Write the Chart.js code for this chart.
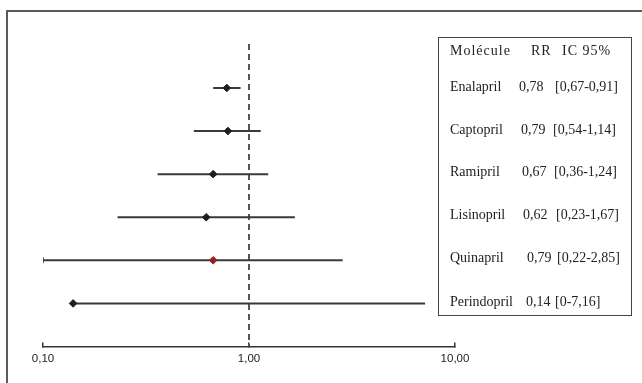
<!DOCTYPE html>
<html><head><meta charset="utf-8">
<script src="https://cdn.jsdelivr.net/npm/chart.js@4/dist/chart.umd.min.js"></script>
<style>
html,body{margin:0;padding:0;background:#fff;}
#wrap{position:relative;width:642px;height:383px;overflow:hidden;background:#fff;}
#frame{position:absolute;left:6px;top:10px;width:700px;height:420px;border-left:2px solid #5a5a5a;border-top:2px solid #5a5a5a;}
#c{position:absolute;left:0;top:0;}
#tbl{position:absolute;left:438px;top:37px;width:192px;height:277px;border:1.5px solid #444;}
.t{position:absolute;white-space:nowrap;line-height:16px;font-family:"Liberation Serif","Times New Roman",serif;font-size:14px;color:#222;}
.h{letter-spacing:1px;}
</style>
</head><body>
<div id="wrap">
<div id="frame"></div>
<canvas id="c" width="642" height="383"></canvas>
<div id="tbl"></div>
</div>
<script>
// ---- data ----
const molecules = ['Enalapril','Captopril','Ramipril','Lisinopril','Quinapril','Perindopril'];
const rrText = ['0,78','0,79','0,67','0,62','0,79','0,14'];
const icText = ['[0,67-0,91]','[0,54-1,14]','[0,36-1,24]','[0,23-1,67]','[0,22-2,85]','[0-7,16]'];
const rrPlotted = [0.78, 0.79, 0.67, 0.62, 0.67, 0.14];
const ciLow = [0.67, 0.54, 0.36, 0.23, 0.10, 0.14];
const ciHigh = [0.91, 1.14, 1.24, 1.67, 2.85, 7.16];
const xTicks = [0.1, 1, 10];
const xTickLabels = ['0,10', '1,00', '10,00'];
const refValue = 1;
const headers = ['Molécule', 'RR', 'IC 95%'];

// ---- table text (layout) ----
const wrap = document.getElementById('wrap');
const rowY = [87.5, 130, 172.7, 215.3, 258.3, 302];
const rrX = [519, 521, 522, 523, 527, 526];
const icX = [555, 553, 554, 556, 557, 555];
function addText(txt, x, y, cls) {
  const s = document.createElement('span');
  s.className = 't' + (cls ? ' ' + cls : '');
  s.textContent = txt;
  s.style.left = x + 'px';
  s.style.top = (y - 8.5) + 'px';
  wrap.appendChild(s);
}
addText(headers[0], 450, 51, 'h');
addText(headers[1], 531, 51, 'h');
addText(headers[2], 562, 51, 'h');
molecules.forEach((m, i) => {
  addText(m, 450, rowY[i]);
  addText(rrText[i], rrX[i], rowY[i]);
  addText(icText[i], icX[i], rowY[i]);
});

// ---- chart ----
const datasets = [];
molecules.forEach((m, i) => {
  datasets.push({
    label: m + ' IC',
    data: [{x: ciLow[i], y: i}, {x: ciHigh[i], y: i}],
    showLine: true,
    borderColor: '#3a3a3a',
    borderWidth: 2,
    pointRadius: (i === 4) ? [3, 0] : 0,
    pointStyle: 'line',
    rotation: 90,
    pointBorderColor: '#3a3a3a',
    pointBorderWidth: 1.5,
    order: 2
  });
});
datasets.push({
  label: 'ref',
  data: [{x: refValue, y: -1.02}, {x: refValue, y: 6.0}],
  showLine: true,
  borderColor: '#555',
  borderWidth: 2,
  borderDash: [6, 4],
  pointRadius: 0,
  order: 3
});
datasets.push({
  label: 'RR',
  data: rrPlotted.map((v, i) => ({x: v, y: i})),
  showLine: false,
  pointStyle: 'rectRot',
  pointRadius: 3.8,
  backgroundColor: rrPlotted.map((v, i) => i === 4 ? '#9c1d1d' : '#1e1e1e'),
  borderColor: rrPlotted.map((v, i) => i === 4 ? '#9c1d1d' : '#1e1e1e'),
  borderWidth: 1,
  order: 1
});

new Chart(document.getElementById('c'), {
  type: 'scatter',
  data: {datasets},
  options: {
    responsive: false,
    animation: false,
    devicePixelRatio: 1,
    layout: {padding: {left: 43, right: 187, top: 44, bottom: 0}},
    plugins: {legend: {display: false}, tooltip: {enabled: false}},
    scales: {
      x: {
        type: 'logarithmic',
        min: 0.1, max: 10,
        afterBuildTicks: s => { s.ticks = xTicks.map(v => ({value: v})); },
        afterFit: s => { s.height = 36.5; },
        ticks: {
          autoSkip: false, maxRotation: 0, padding: 9,
          color: '#222',
          font: {family: '"Liberation Sans", Arial, sans-serif', size: 11.5},
          callback: (v, i) => xTickLabels[i]
        },
        grid: {drawOnChartArea: false, drawTicks: true, tickLength: -4, color: '#333', lineWidth: 1.5},
        border: {display: true, color: '#333', width: 1.5}
      },
      y: {
        type: 'linear', min: -1.02, max: 6.0, reverse: true, display: false
      }
    }
  }
});
</script>
</body></html>
